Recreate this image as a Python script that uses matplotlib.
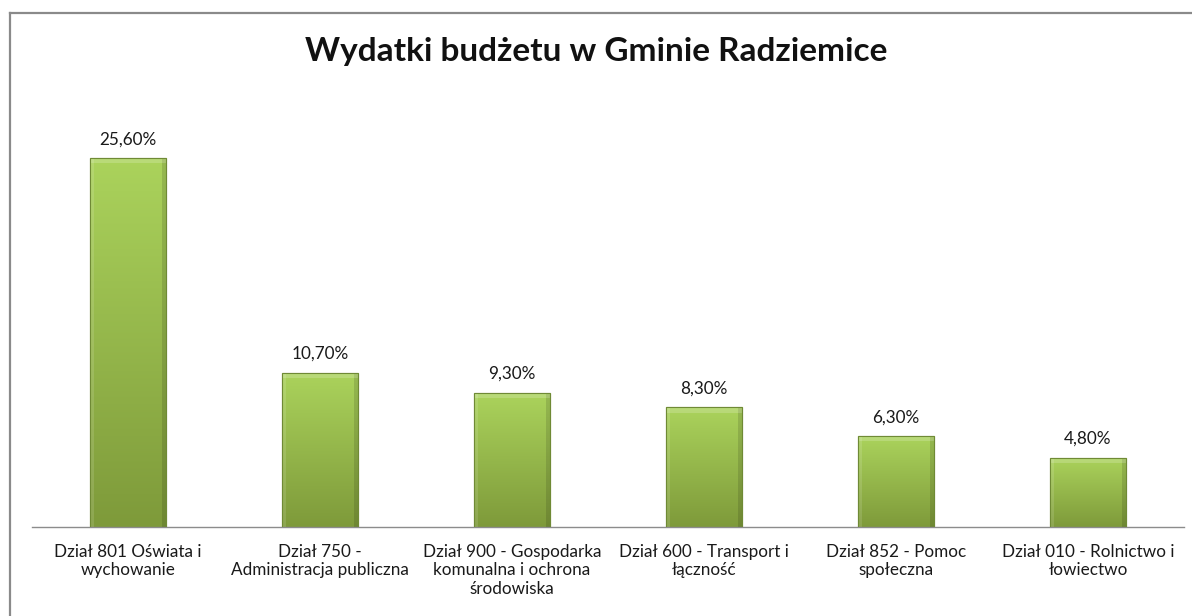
import numpy as np
import matplotlib
matplotlib.use("Agg")
import matplotlib.pyplot as plt
from matplotlib.patches import Rectangle
from matplotlib.lines import Line2D

categories = [
    "Dział 801 Oświata i\nwychowanie",
    "Dział 750 -\nAdministracja publiczna",
    "Dział 900 - Gospodarka\nkomunalna i ochrona\nśrodowiska",
    "Dział 600 - Transport i\nłączność",
    "Dział 852 - Pomoc\nspołeczna",
    "Dział 010 - Rolnictwo i\nłowiectwo",
]
values = [25.6, 10.7, 9.3, 8.3, 6.3, 4.8]
value_labels = ["25,60%", "10,70%", "9,30%", "8,30%", "6,30%", "4,80%"]
title = "Wydatki budżetu w Gminie Radziemice"

plt.rcParams['font.family'] = ['Lato', 'DejaVu Sans']

W, H = 1192, 616
fig = plt.figure(figsize=(W / 100, H / 100), dpi=100)
fig.patch.set_facecolor("white")

# chart frame (top and left edges visible)
fig.add_artist(Line2D([10 / W, 1.0], [1 - 13 / H, 1 - 13 / H], transform=fig.transFigure,
                      color="#8a8a8a", linewidth=1.6))
fig.add_artist(Line2D([10 / W, 10 / W], [0, 1 - 13 / H], transform=fig.transFigure,
                      color="#8a8a8a", linewidth=1.6))

ax_left, ax_right = 32, 1184
ax = fig.add_axes([ax_left / W, (H - 527) / H, (ax_right - ax_left) / W, (527 - 95) / H])
for s in ["top", "right", "left"]:
    ax.spines[s].set_visible(False)
ax.spines["bottom"].set_color("#8c8c8c")
ax.spines["bottom"].set_linewidth(1.0)
ax.set_yticks([])
ax.set_xticks(range(len(values)))
ax.set_xticklabels(categories, fontsize=12.3, color="#1a1a1a", linespacing=1.2)
ax.tick_params(axis="x", length=0, pad=12)

x = np.arange(len(values))
bars = ax.bar(x, values, width=0.4, color="#9bbb59", edgecolor="#6f8a35", linewidth=0.8, zorder=2)

grad = np.linspace(0, 1, 256).reshape(-1, 1)
top_c = np.array([0xab, 0xd3, 0x5c]) / 255
bot_c = np.array([0x7e, 0x9a, 0x3a]) / 255
img = (grad[..., None] * top_c + (1 - grad[..., None]) * bot_c)  # row 0 bottom
for b, v in zip(bars, values):
    x0, w = b.get_x(), b.get_width()
    im = ax.imshow(img, extent=[x0, x0 + w, 0, v], origin="lower", aspect="auto", zorder=2.5)
    im.set_clip_path(b)
    ax.add_patch(Rectangle((x0, 0), w * 0.06, v, color="white", alpha=0.12, zorder=3, lw=0))
    ax.add_patch(Rectangle((x0 + w * 0.94, 0), w * 0.06, v, color="black", alpha=0.12, zorder=3, lw=0))
    ax.add_patch(Rectangle((x0, v - 0.35), w, 0.35, color="white", alpha=0.18, zorder=3, lw=0))
    ax.add_patch(Rectangle((x0, v), w, -v, fill=False, edgecolor="#6f8a35", lw=0.8, zorder=3.5))
ax.set_xlim(-0.5, len(values) - 0.5)
ax.set_ylim(0, 30)

for xi, v, lab in zip(x, values, value_labels):
    ax.annotate(lab, (xi, v), xytext=(0, 8), textcoords="offset points",
                ha="center", va="bottom", fontsize=12.3, color="#1a1a1a")

fig.text(0.5, 1 - 52 / H, title, ha="center", va="center", fontsize=24, fontweight="bold", color="#111111")

fig.savefig("out.png", dpi=100)
